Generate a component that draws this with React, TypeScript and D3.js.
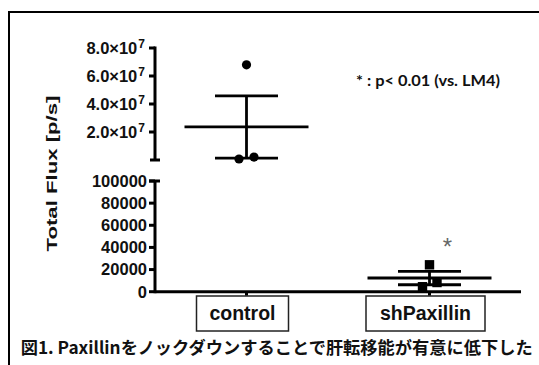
import React from 'react';
import * as d3 from 'd3';

// data
const categories = ['control', 'shPaxillin'];
const controlValues = [68000000, 700000, 2100000];
const shPaxillinValues = [24300, 8300, 4500];
const upperTicks = [20000000, 40000000, 60000000, 80000000];
const lowerTicks = [0, 20000, 40000, 60000, 80000, 100000];
const yTitle = 'Total Flux [p/s]';
const note = '* : p< 0.01 (vs. LM4)';
const caption = '図1. Paxillinをノックダウンすることで肝転移能が有意に低下した';

const W = 539;
const H = 365;
const axisX = 155;
const axisRight = 521;
const font = '"Liberation Sans", Arial, sans-serif';
// little horizontal scatter of the dots inside a column (px)
const jitter = [
  [0, -7.5, 7.5],
  [0, 7.5, -7],
];
const boxWidth = [92, 119];

const x = d3.scalePoint<string>().domain(categories).range([axisX, axisRight]).padding(0.5);
const yUpper = d3.scaleLinear().domain([0, 80000000]).range([160, 48]);
const yLower = d3.scaleLinear().domain([0, 100000]).range([291.7, 181]);

const groups = [controlValues, shPaxillinValues].map((vals, i) => {
  const mean = d3.mean(vals) as number;
  const sem = (d3.deviation(vals) as number) / Math.sqrt(vals.length);
  const y = mean > 100000 ? yUpper : yLower;
  return { name: categories[i], vals, mean, sem, y };
});

const upperLabel = (v: number) => {
  const exp = Math.floor(Math.log10(v));
  return { mant: (v / Math.pow(10, exp)).toFixed(1), exp };
};

export default function App() {
  return (
    <svg width={W} height={H} style={{ position: 'absolute', left: 0, top: 0, background: '#fff' }}>
      {/* frame */}
      <rect x={9} y={12} width={W} height={H} fill="none" stroke="#000" strokeWidth={2} />

      {/* y title */}
      <text
        transform="translate(57,173.5) rotate(-90)"
        textAnchor="middle"
        fontFamily={font}
        fontWeight="bold"
        fontSize={15.5}
        textLength={156}
        lengthAdjust="spacingAndGlyphs"
        fill="#111"
      >
        {yTitle}
      </text>

      {/* upper axis segment */}
      <g stroke="#000" strokeWidth={3} fill="none">
        <line x1={axisX} x2={axisX} y1={yUpper(80000000) - 1.5} y2={yUpper(0)} />
        <line x1={axisX - 5} x2={axisX + 5} y1={yUpper(0)} y2={yUpper(0)} />
        {upperTicks.map((t) => (
          <line key={t} x1={axisX - 6} x2={axisX} y1={yUpper(t)} y2={yUpper(t)} />
        ))}
      </g>
      <g fontFamily={font} fontWeight="bold" fontSize={16.5} textAnchor="end" fill="#111">
        {upperTicks.map((t) => {
          const l = upperLabel(t);
          return (
            <text key={t} x={145} y={yUpper(t) + 5.5}>
              {l.mant}×10
              <tspan fontSize={12} dx={1} dy={-6}>
                {l.exp}
              </tspan>
            </text>
          );
        })}
      </g>

      {/* lower axis segment */}
      <g stroke="#000" strokeWidth={3} fill="none">
        <line x1={axisX} x2={axisX} y1={yLower(100000)} y2={yLower(0) + 1.5} />
        <line x1={axisX - 6} x2={axisX + 5} y1={yLower(100000)} y2={yLower(100000)} />
        {lowerTicks.map((t) => (
          <line key={t} x1={axisX - 6} x2={axisX} y1={yLower(t)} y2={yLower(t)} />
        ))}
        <line x1={axisX} x2={axisRight} y1={yLower(0)} y2={yLower(0)} />
        {categories.map((c) => (
          <line key={c} x1={x(c)} x2={x(c)} y1={yLower(0)} y2={yLower(0) + 4} />
        ))}
      </g>
      <g fontFamily={font} fontWeight="bold" fontSize={16.5} textAnchor="end" fill="#111">
        {lowerTicks.map((t) => (
          <text key={t} x={147} y={yLower(t) + 5.8}>
            {t}
          </text>
        ))}
      </g>

      {/* category boxes */}
      {categories.map((c, i) => {
        const cx = (x(c) as number) - 4;
        return (
          <g key={c}>
            <rect x={cx - boxWidth[i] / 2} y={296} width={boxWidth[i]} height={35} fill="#fff" stroke="#222" strokeWidth={1.5} />
            <text x={cx} y={320} textAnchor="middle" fontFamily={font} fontWeight="bold" fontSize={19.5} fill="#111">
              {c}
            </text>
          </g>
        );
      })}

      {/* mean ± SEM and points */}
      {groups.map((g, i) => {
        const cx = x(g.name) as number;
        return (
          <g key={g.name}>
            <g stroke="#000" strokeWidth={2.8}>
              <line x1={cx - 62} x2={cx + 62} y1={g.y(g.mean)} y2={g.y(g.mean)} />
              <line x1={cx} x2={cx} y1={g.y(g.mean + g.sem)} y2={g.y(g.mean - g.sem)} />
              <line x1={cx - 31.5} x2={cx + 31.5} y1={g.y(g.mean + g.sem)} y2={g.y(g.mean + g.sem)} />
              <line x1={cx - 31.5} x2={cx + 31.5} y1={g.y(g.mean - g.sem)} y2={g.y(g.mean - g.sem)} />
            </g>
            {g.vals.map((v, j) =>
              i === 0 ? (
                <circle key={j} cx={cx + jitter[i][j]} cy={g.y(v)} r={4.6} fill="#000" />
              ) : (
                <rect key={j} x={cx + jitter[i][j] - 4.7} y={g.y(v) - 4.7} width={9.4} height={9.4} fill="#000" />
              ),
            )}
          </g>
        );
      })}

      {/* significance star */}
      <text x={447.5} y={255} textAnchor="middle" fontFamily={font} fontSize={24} fill="#666">
        *
      </text>

      {/* note */}
      <text x={356} y={85.5} fontFamily="Lato, sans-serif" fontWeight="bold" fontSize={14.5} fill="#111" textLength={144} lengthAdjust="spacingAndGlyphs">
        {note}
      </text>

      {/* caption */}
      <text x={20.7} y={354} fontFamily='"Noto Sans CJK JP", sans-serif' fontWeight="bold" fontSize={17} fill="#111" textLength={512} lengthAdjust="spacingAndGlyphs">
        {caption}
      </text>
    </svg>
  );
}
